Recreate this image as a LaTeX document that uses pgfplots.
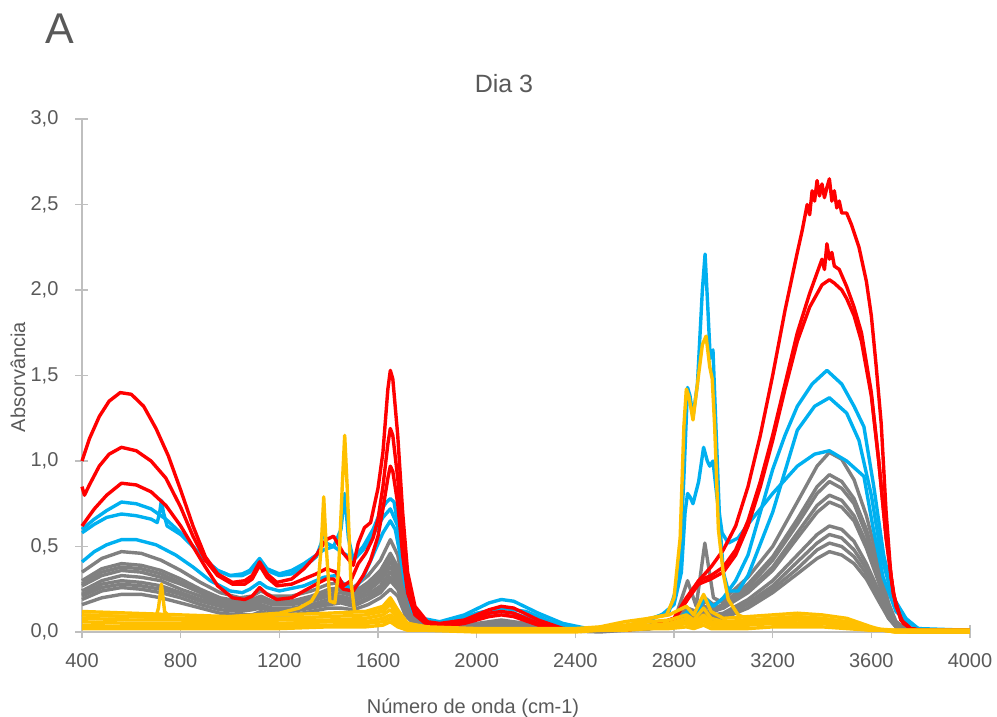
\documentclass[border=0pt]{standalone}
\usepackage{pgfplots}
\pgfplotsset{compat=1.18}
\usepackage{pgfplotstable}
\usepackage{fontspec}
\setmainfont{Liberation Sans}
\definecolor{cred}{HTML}{FF0000}
\definecolor{cblue}{HTML}{00B0F0}
\definecolor{cgray}{HTML}{808080}
\definecolor{cyel}{HTML}{FFC000}
\definecolor{txt}{HTML}{595959}
\definecolor{axgray}{HTML}{BFBFBF}

\pgfplotstableread{
x     g1   g2   g3   g4   g5   g6   g7   g8   g9
400   0.35 0.30 0.28 0.27 0.24 0.22 0.21 0.19 0.16
480   0.43 0.37 0.35 0.33 0.30 0.28 0.26 0.24 0.20
560   0.47 0.40 0.38 0.36 0.33 0.30 0.28 0.26 0.22
640   0.46 0.39 0.37 0.35 0.32 0.29 0.27 0.25 0.22
720   0.42 0.36 0.34 0.32 0.30 0.27 0.25 0.23 0.20
800   0.36 0.31 0.29 0.28 0.25 0.23 0.22 0.20 0.17
880   0.29 0.25 0.24 0.23 0.21 0.19 0.18 0.16 0.14
960   0.23 0.20 0.19 0.18 0.17 0.16 0.15 0.13 0.11
1040  0.20 0.18 0.17 0.16 0.15 0.14 0.13 0.12 0.10
1090  0.21 0.19 0.18 0.17 0.16 0.15 0.14 0.13 0.10
1125  0.24 0.21 0.20 0.19 0.18 0.16 0.15 0.14 0.12
1170  0.21 0.18 0.18 0.17 0.16 0.14 0.13 0.12 0.10
1250  0.21 0.18 0.18 0.17 0.16 0.14 0.13 0.12 0.10
1330  0.24 0.21 0.20 0.19 0.18 0.16 0.15 0.14 0.12
1400  0.28 0.25 0.24 0.22 0.21 0.19 0.17 0.16 0.14
1450  0.29 0.26 0.25 0.23 0.21 0.19 0.18 0.17 0.14
1500  0.26 0.23 0.22 0.21 0.19 0.18 0.16 0.15 0.13
1560  0.33 0.29 0.27 0.26 0.24 0.22 0.20 0.19 0.16
1610  0.42 0.36 0.34 0.32 0.30 0.27 0.25 0.23 0.20
1650  0.54 0.46 0.44 0.41 0.38 0.35 0.32 0.30 0.25
1680  0.45 0.38 0.36 0.34 0.31 0.29 0.27 0.25 0.21
1710  0.22 0.19 0.18 0.17 0.16 0.14 0.13 0.12 0.10
1750  0.08 0.07 0.06 0.06 0.06 0.05 0.05 0.04 0.04
1850  0.03 0.02 0.02 0.02 0.02 0.02 0.02 0.02 0.01
2000  0.05 0.04 0.04 0.04 0.03 0.03 0.03 0.03 0.02
2100  0.07 0.06 0.06 0.05 0.05 0.05 0.04 0.04 0.03
2200  0.05 0.04 0.04 0.04 0.03 0.03 0.03 0.03 0.02
2300  0.02 0.02 0.02 0.01 0.01 0.01 0.01 0.01 0.01
2500  0.01 0.01 0.01 0.01 0.01 0.01 0.01 0.01 0.00
2700  0.04 0.03 0.03 0.03 0.02 0.02 0.02 0.02 0.02
2800  0.07 0.06 0.06 0.05 0.05 0.04 0.04 0.04 0.03
2855  0.14 0.30 0.12 0.10 0.12 0.09 0.08 0.08 0.07
2890  0.12 0.15 0.10 0.09 0.09 0.08 0.07 0.07 0.06
2925  0.20 0.52 0.18 0.15 0.20 0.13 0.12 0.11 0.10
2960  0.16 0.20 0.14 0.13 0.12 0.10 0.09 0.08 0.07
3000  0.19 0.17 0.16 0.14 0.14 0.11 0.10 0.09 0.08
3100  0.32 0.28 0.26 0.24 0.23 0.19 0.17 0.16 0.14
3200  0.50 0.44 0.42 0.38 0.36 0.30 0.27 0.25 0.23
3300  0.76 0.66 0.63 0.58 0.55 0.45 0.41 0.37 0.34
3380  0.97 0.85 0.81 0.74 0.70 0.57 0.52 0.48 0.43
3430  1.05 0.92 0.88 0.80 0.76 0.62 0.57 0.52 0.47
3480  1.01 0.88 0.84 0.77 0.73 0.60 0.55 0.50 0.45
3530  0.89 0.78 0.75 0.68 0.65 0.53 0.48 0.44 0.40
3580  0.68 0.60 0.57 0.52 0.49 0.40 0.37 0.34 0.31
3630  0.40 0.35 0.33 0.30 0.29 0.24 0.22 0.20 0.18
3670  0.17 0.15 0.14 0.13 0.12 0.10 0.09 0.08 0.08
3700  0.06 0.06 0.05 0.05 0.05 0.04 0.03 0.03 0.03
3750  0.01 0.01 0.01 0.01 0.01 0.01 0.01 0.01 0.00
4000  0.01 0.01 0.01 0.01 0.01 0.01 0.01 0.01 0.00
}\graytab

\pgfplotstableread{
x     ya   yb   yc   yd   ye   yf
400   0.12 0.10 0.08 0.06 0.04 0.02
600   0.11 0.09 0.07 0.05 0.03 0.02
800   0.10 0.08 0.07 0.05 0.03 0.02
1000  0.09 0.08 0.06 0.05 0.03 0.02
1200  0.10 0.08 0.07 0.05 0.04 0.02
1400  0.11 0.09 0.07 0.06 0.04 0.03
1550  0.12 0.10 0.08 0.06 0.05 0.03
1620  0.15 0.12 0.10 0.08 0.06 0.04
1650  0.20 0.16 0.13 0.10 0.08 0.06
1680  0.13 0.10 0.08 0.06 0.05 0.03
1720  0.05 0.04 0.03 0.02 0.02 0.01
1800  0.03 0.02 0.02 0.01 0.01 0.01
2000  0.02 0.01 0.01 0.01 0.01 0.00
2200  0.02 0.01 0.01 0.01 0.01 0.00
2400  0.02 0.01 0.01 0.01 0.01 0.00
2500  0.03 0.02 0.02 0.01 0.01 0.01
2600  0.06 0.04 0.03 0.02 0.02 0.01
2700  0.08 0.06 0.04 0.03 0.02 0.02
2780  0.10 0.07 0.05 0.04 0.03 0.02
2850  0.15 0.10 0.08 0.06 0.05 0.03
2880  0.10 0.07 0.05 0.04 0.03 0.02
2920  0.22 0.14 0.10 0.08 0.06 0.04
2950  0.12 0.08 0.06 0.05 0.04 0.02
3000  0.08 0.06 0.05 0.04 0.03 0.02
3100  0.09 0.07 0.06 0.05 0.04 0.02
3200  0.10 0.08 0.07 0.06 0.05 0.03
3300  0.11 0.09 0.08 0.07 0.05 0.03
3400  0.10 0.08 0.07 0.06 0.05 0.03
3500  0.08 0.06 0.05 0.04 0.03 0.02
3600  0.03 0.02 0.02 0.02 0.01 0.01
3650  0.01 0.01 0.01 0.01 0.01 0.01
3700  0.01 0.01 0.01 0.00 0.00 0.00
4000  0.01 0.01 0.01 0.00 0.00 0.00
}\yeltab

\begin{document}
\begin{tikzpicture}
\path[use as bounding box] (-41pt,-42.5pt) rectangle (457.5pt,316pt);
\begin{axis}[
  at={(0,0)}, anchor=south west,
  scale only axis, width=444pt, height=256.5pt,
  xmin=400, xmax=4000, ymin=0, ymax=3,
  axis x line*=bottom, axis y line*=left,
  axis line style={draw=axgray, line width=0.7pt},
  xtick={400,800,...,4000}, ytick={0,0.5,...,3},
  tick align=center, major tick length=6.5pt,
  tick style={draw=axgray, line width=0.7pt},
  /pgf/number format/assume math mode=true,
  ticklabel style={font=\fontsize{10}{12}\selectfont, text=txt},
  xticklabel style={/pgf/number format/1000 sep={}, yshift=-4pt},
  yticklabel style={xshift=-5pt, /pgf/number format/fixed, /pgf/number format/fixed zerofill, /pgf/number format/precision=1, /pgf/number format/use comma},
  clip=false,
  every axis plot/.append style={line width=1.7pt, line join=round, mark=none},
]
% gray
\pgfplotsinvokeforeach{g1,g2,g3,g4,g5,g6,g7,g8,g9}{
  \addplot[cgray] table[x=x,y=#1]{\graytab};
}
% blue
\addplot[cblue] coordinates {(400,0.60)(450,0.66)(500,0.71)(560,0.76)(620,0.75)(680,0.72)(740,0.66)(800,0.58)(850,0.50)(900,0.42)(950,0.36)(1000,0.33)(1050,0.34)(1080,0.36)(1120,0.43)(1150,0.37)(1200,0.34)(1250,0.36)(1300,0.40)(1350,0.45)(1380,0.48)(1420,0.50)(1460,0.46)(1500,0.43)(1540,0.50)(1580,0.60)(1615,0.72)(1635,0.76)(1650,0.78)(1665,0.76)(1690,0.55)(1710,0.35)(1740,0.16)(1780,0.08)(1850,0.06)(1950,0.10)(2050,0.17)(2100,0.19)(2150,0.18)(2250,0.11)(2350,0.05)(2450,0.02)(2550,0.02)(2650,0.05)(2750,0.10)(2800,0.16)(2830,0.35)(2845,0.70)(2855,0.81)(2865,0.79)(2877,0.75)(2900,0.88)(2920,1.08)(2935,1.00)(2945,0.97)(2958,1.00)(2975,0.78)(2995,0.58)(3020,0.52)(3060,0.55)(3100,0.63)(3200,0.81)(3300,0.97)(3370,1.04)(3430,1.06)(3500,1.00)(3570,0.91)(3607,0.61)(3648,0.32)(3700,0.12)(3745,0.06)(3800,0.01)(4000,0.01)};
\addplot[cblue] coordinates {(400,0.58)(450,0.63)(500,0.67)(560,0.69)(620,0.68)(680,0.66)(705,0.64)(715,0.70)(722,0.77)(730,0.70)(745,0.62)(800,0.57)(850,0.50)(900,0.42)(950,0.36)(1000,0.33)(1050,0.33)(1080,0.35)(1120,0.42)(1150,0.36)(1200,0.33)(1250,0.34)(1300,0.38)(1350,0.44)(1370,0.52)(1380,0.63)(1390,0.52)(1420,0.50)(1450,0.60)(1465,0.81)(1480,0.55)(1500,0.42)(1540,0.48)(1580,0.57)(1620,0.67)(1650,0.72)(1680,0.62)(1710,0.33)(1750,0.13)(1800,0.06)(1900,0.06)(2000,0.11)(2100,0.14)(2200,0.12)(2300,0.06)(2400,0.02)(2500,0.02)(2600,0.03)(2700,0.07)(2780,0.12)(2820,0.30)(2840,0.90)(2855,1.43)(2865,1.38)(2877,1.26)(2895,1.45)(2915,2.00)(2926,2.21)(2937,1.90)(2947,1.60)(2958,1.65)(2970,1.20)(2985,0.65)(3000,0.35)(3020,0.24)(3060,0.24)(3100,0.33)(3200,0.70)(3300,1.18)(3370,1.32)(3430,1.37)(3500,1.28)(3550,1.12)(3600,0.80)(3640,0.45)(3690,0.18)(3740,0.07)(3790,0.02)(4000,0.01)};
\addplot[cblue] coordinates {(400,0.41)(450,0.47)(500,0.51)(560,0.54)(620,0.54)(700,0.51)(780,0.45)(850,0.38)(920,0.30)(1000,0.24)(1050,0.23)(1080,0.25)(1120,0.29)(1150,0.26)(1200,0.24)(1300,0.27)(1380,0.32)(1430,0.33)(1460,0.28)(1500,0.24)(1540,0.32)(1580,0.45)(1620,0.58)(1650,0.65)(1670,0.60)(1690,0.45)(1710,0.28)(1740,0.12)(1780,0.06)(1850,0.04)(1950,0.07)(2050,0.11)(2100,0.12)(2150,0.11)(2250,0.06)(2350,0.02)(2500,0.01)(2650,0.02)(2800,0.05)(2855,0.12)(2890,0.10)(2925,0.20)(2960,0.15)(3000,0.20)(3050,0.30)(3100,0.45)(3150,0.70)(3200,0.95)(3250,1.15)(3300,1.32)(3360,1.45)(3420,1.53)(3480,1.45)(3530,1.32)(3570,1.20)(3610,0.85)(3650,0.45)(3690,0.20)(3740,0.08)(3790,0.02)(3850,0.01)(4000,0.01)};
% red
\addplot[cred] coordinates {(400,1.00)(430,1.13)(470,1.26)(510,1.35)(555,1.40)(600,1.39)(650,1.32)(700,1.19)(750,1.03)(800,0.83)(850,0.62)(900,0.44)(950,0.34)(1010,0.29)(1060,0.30)(1090,0.33)(1120,0.41)(1150,0.34)(1190,0.29)(1250,0.31)(1300,0.37)(1350,0.45)(1390,0.54)(1420,0.56)(1460,0.46)(1500,0.39)(1520,0.52)(1545,0.61)(1570,0.64)(1600,0.84)(1620,1.05)(1640,1.42)(1650,1.53)(1660,1.48)(1680,1.15)(1700,0.70)(1720,0.35)(1750,0.15)(1800,0.06)(1850,0.05)(1950,0.07)(2050,0.13)(2100,0.15)(2150,0.14)(2250,0.07)(2350,0.02)(2450,0.01)(2600,0.01)(2700,0.03)(2800,0.08)(2850,0.18)(2900,0.30)(2950,0.38)(3000,0.48)(3050,0.62)(3100,0.85)(3150,1.15)(3200,1.50)(3250,1.88)(3300,2.22)(3320,2.35)(3340,2.50)(3350,2.44)(3360,2.58)(3370,2.52)(3380,2.64)(3390,2.55)(3400,2.62)(3410,2.54)(3420,2.60)(3430,2.65)(3440,2.52)(3450,2.58)(3460,2.48)(3470,2.52)(3480,2.45)(3500,2.45)(3520,2.38)(3550,2.25)(3580,2.05)(3600,1.85)(3620,1.55)(3640,1.22)(3660,0.70)(3680,0.32)(3700,0.15)(3730,0.05)(3760,0.02)(3800,0.01)(4000,0.01)};
\addplot[cred] coordinates {(400,0.85)(410,0.80)(430,0.86)(470,0.97)(510,1.04)(560,1.08)(620,1.06)(680,1.00)(740,0.90)(800,0.73)(850,0.56)(900,0.42)(950,0.33)(1010,0.28)(1060,0.28)(1090,0.31)(1120,0.39)(1150,0.32)(1190,0.27)(1250,0.28)(1300,0.31)(1350,0.34)(1390,0.37)(1430,0.35)(1460,0.27)(1490,0.30)(1520,0.40)(1550,0.46)(1580,0.55)(1600,0.66)(1620,0.85)(1640,1.10)(1650,1.19)(1660,1.15)(1680,0.90)(1700,0.55)(1720,0.28)(1750,0.12)(1800,0.05)(1850,0.04)(1950,0.06)(2050,0.11)(2100,0.12)(2150,0.11)(2250,0.05)(2350,0.02)(2450,0.01)(2600,0.01)(2700,0.03)(2800,0.08)(2850,0.20)(2900,0.30)(2950,0.33)(3000,0.38)(3050,0.48)(3100,0.65)(3150,0.88)(3200,1.15)(3250,1.45)(3300,1.75)(3350,1.98)(3380,2.10)(3400,2.18)(3410,2.12)(3420,2.27)(3430,2.18)(3440,2.22)(3450,2.14)(3470,2.12)(3500,2.02)(3530,1.90)(3560,1.75)(3600,1.40)(3630,1.00)(3660,0.55)(3690,0.22)(3720,0.07)(3760,0.02)(3800,0.01)(4000,0.01)};
\addplot[cred] coordinates {(400,0.62)(450,0.72)(500,0.80)(560,0.87)(620,0.86)(680,0.82)(740,0.74)(800,0.62)(850,0.50)(900,0.38)(950,0.27)(1010,0.20)(1060,0.19)(1090,0.21)(1120,0.26)(1150,0.22)(1190,0.19)(1250,0.20)(1300,0.24)(1350,0.28)(1390,0.31)(1420,0.31)(1460,0.25)(1500,0.24)(1540,0.33)(1570,0.42)(1600,0.56)(1620,0.72)(1640,0.90)(1650,0.97)(1660,0.94)(1680,0.75)(1700,0.45)(1720,0.23)(1750,0.10)(1800,0.04)(1850,0.03)(1950,0.05)(2050,0.09)(2100,0.10)(2150,0.09)(2250,0.04)(2350,0.01)(2600,0.01)(2700,0.03)(2800,0.07)(2850,0.18)(2900,0.28)(2950,0.31)(3000,0.35)(3050,0.45)(3100,0.62)(3150,0.85)(3200,1.12)(3250,1.42)(3300,1.70)(3350,1.90)(3400,2.03)(3430,2.06)(3450,2.04)(3480,2.00)(3500,1.95)(3530,1.85)(3560,1.70)(3600,1.38)(3630,1.00)(3660,0.55)(3690,0.22)(3720,0.07)(3760,0.02)(3800,0.01)(4000,0.01)};
% yellow
\pgfplotsinvokeforeach{ya,yb,yc,yd,ye,yf}{
  \addplot[cyel] table[x=x,y=#1]{\yeltab};
}
\addplot[cyel] coordinates {(400,0.10)(600,0.09)(700,0.09)(710,0.14)(722,0.28)(735,0.12)(760,0.08)(900,0.08)(1100,0.10)(1200,0.11)(1280,0.14)(1330,0.18)(1355,0.24)(1370,0.50)(1380,0.79)(1390,0.50)(1405,0.18)(1425,0.17)(1440,0.35)(1455,0.85)(1465,1.15)(1475,0.85)(1490,0.30)(1505,0.12)(1600,0.12)(1650,0.18)(1700,0.06)(1800,0.02)(2000,0.01)(2400,0.01)(2600,0.03)(2700,0.08)(2770,0.10)(2800,0.20)(2825,0.55)(2840,1.20)(2850,1.42)(2860,1.38)(2877,1.24)(2895,1.45)(2915,1.68)(2930,1.73)(2945,1.55)(2955,1.48)(2965,1.20)(2980,0.60)(3000,0.34)(3020,0.19)(3060,0.10)(3110,0.07)(3200,0.08)(3300,0.09)(3400,0.08)(3500,0.06)(3600,0.02)(3700,0.01)(4000,0.01)};
\end{axis}
\node[text=txt, font=\fontsize{21.5}{24}\selectfont] at (-11pt,301.5pt) {A};
\node[text=txt, font=\fontsize{12.5}{14}\selectfont] at (211pt,274pt) {Dia 3};
\node[text=txt, font=\fontsize{10}{12}\selectfont, rotate=90] at (-32pt,127.5pt) {Absorvância};
\node[text=txt, font=\fontsize{10}{12}\selectfont] at (195.5pt,-38pt) {Número de onda (cm-1)};
\end{tikzpicture}
\end{document}
